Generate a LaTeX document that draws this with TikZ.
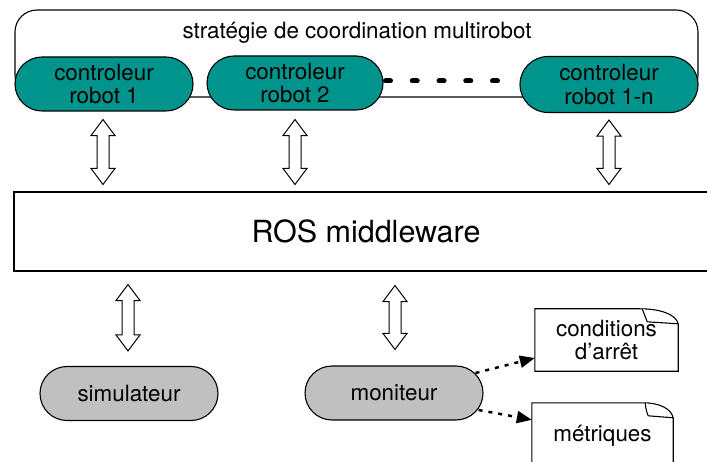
\documentclass[tikz,border=0pt]{standalone}
\usepackage{fontspec}
\setmainfont{TeX Gyre Heros}
\usetikzlibrary{calc,arrows.meta}
\definecolor{tealfill}{RGB}{0,148,141}
\definecolor{grayfill}{RGB}{192,192,192}
\newcommand\fsA{\fontsize{22.4}{23.5}\selectfont}
\newcommand\fsB{\fontsize{30.5}{33}\selectfont}
\newcommand\hollowdbl[2]{%
  \draw[dblarrow] let \p1=#1, \p2=#2 in
    (\x1,\y1) -- (\x1+12pt,\y1-16pt) -- (\x1+6pt,\y1-16pt) -- (\x1+6pt,\y2+16pt)
    -- (\x1+12pt,\y2+16pt) -- (\x1,\y2) -- (\x1-12pt,\y2+16pt) -- (\x1-6pt,\y2+16pt)
    -- (\x1-6pt,\y1-16pt) -- (\x1-12pt,\y1-16pt) -- cycle;}
% #1 node name, #2 fold width, #3 fold height, #4 inner x, #5 inner y
\newcommand\docoutline[5]{%
  \draw[docline] (#1.north west) -- ($(#1.north east)+(-#2,0)$)
    .. controls ($(#1.north east)+(-#2*0.45,0)$) and ($(#1.north east)+(-2,#3*0.4)$) .. ($(#1.north east)+(0,#3)$)
    -- (#1.south east) -- (#1.south west) -- cycle;
  \draw[docline] ($(#1.north east)+(-#2+2,0)$) .. controls ($(#1.north east)+(-#4,#5*0.6)$) .. ($(#1.north east)+(-#4+2,#5)$)
    -- ($(#1.north east)+(0,#3)$);}
\tikzset{
  x=1pt, y=-1pt,
  frame/.style={draw, line width=1.1pt, rounded corners=22pt, inner sep=0pt},
  pill/.style={draw, line width=1.1pt, rounded corners=27pt, minimum height=54pt, inner sep=0pt, align=center, font=\fsA},
  dblarrow/.style={draw, line width=1pt, fill=white, line join=miter},
  docline/.style={line width=1.1pt, fill=white},
  docbox/.style={inner sep=0pt, align=center, font=\fsA},
  dotline/.style={line width=5pt, line cap=round, dash pattern=on 5pt off 21.75pt},
  dasharrow/.style={line width=2.5pt, dash pattern=on 4pt off 6pt, -{Triangle[length=15pt,width=12pt]}},
}
\begin{document}
\begin{tikzpicture}
\useasboundingbox (0,0) rectangle (707,462);
\clip (0,0) rectangle (707,462);
\fill[white] (0,0) rectangle (707,462);
% frame of the coordination strategy
\node[frame, minimum width=683pt, minimum height=87pt] (frame) at (356.5,53.5) {};
\node[anchor=base, font=\fsA, inner sep=0pt] (title) at (357,38.3) {stratégie de coordination multirobot};
% dotted continuation
\coordinate (dotend) at (497.5,81);
\draw[dotline] ($(dotend)+(-112,0)$) -- (dotend);
% controllers
\node[pill, fill=tealfill, minimum width=178pt] (r1) at (104,84) {controleur\\robot 1};
\node[pill, fill=tealfill, minimum width=176pt] (r2) at (295,83) {controleur\\robot 2};
\node[pill, fill=tealfill, minimum width=178pt, minimum height=56pt, rounded corners=28pt] (rn) at (609,84.5) {controleur\\robot 1-n};
% ROS
\node[draw, line width=1.1pt, minimum width=704pt, minimum height=79pt, font=\fsB, inner sep=0pt] (ros) at (366,231.5) {ROS middleware};
% bottom components
\node[pill, fill=grayfill, minimum width=178pt] (sim) at (129,393.5) {simulateur};
\node[pill, fill=grayfill, minimum width=178pt] (mon) at (394,393) {moniteur};
% documents
\node[docbox, minimum width=143pt, minimum height=62pt] (cond) at (606.5,340) {};
\node[docbox, minimum width=141pt, minimum height=64pt] (met) at (602.5,435) {};
\docoutline{cond}{38}{15}{33}{13}
\docoutline{met}{30}{15}{27}{13}
\node[docbox] (condtxt) at (cond.center) {conditions\\d’arrêt};
\node[docbox] (mettxt) at ($(met.center)+(0,1)$) {métriques};
% double arrows
\hollowdbl{($(r1.south)+(-1,8)$)}{($(r1.south |- ros.north)+(-1,-7)$)}
\hollowdbl{($(r2.south)+(0,9)$)}{($(r2.south |- ros.north)+(0,-7)$)}
\hollowdbl{($(rn.south)+(0,7)$)}{($(rn.south |- ros.north)+(0,-7)$)}
\hollowdbl{($(sim.north |- ros.south)+(-1,13)$)}{($(sim.north)+(-1,-15)$)}
\hollowdbl{($(mon.north |- ros.south)+(1,14)$)}{($(mon.north)+(1,-16)$)}
% monitor outputs
\draw[dasharrow] ($(mon.east)+(-8,-20)$) -- ($(cond.west)+(0,18)$);
\draw[dasharrow] ($(mon.east)+(-5,17)$) -- ($(met.north west)+(0,17)$);
\end{tikzpicture}
\end{document}
